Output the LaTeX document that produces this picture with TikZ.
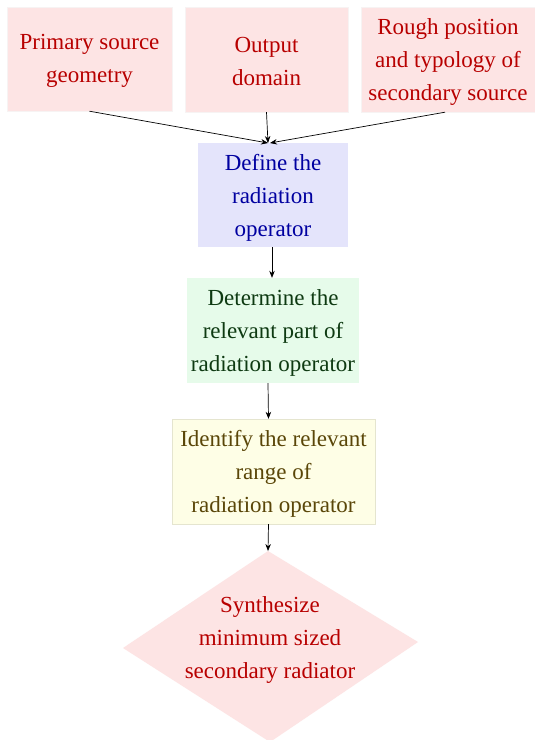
\documentclass[tikz,border=0pt]{standalone}
\usepackage{fontspec}
\setmainfont{Liberation Serif}
\usetikzlibrary{shapes.geometric,arrows.meta}
\definecolor{pinkfill}{HTML}{FDE4E4}
\definecolor{bluefill}{HTML}{E4E4FB}
\definecolor{greenfill}{HTML}{E6FBEA}
\definecolor{yellowfill}{HTML}{FEFEE6}
\definecolor{redtext}{HTML}{B80000}
\definecolor{bluetext}{HTML}{0000A0}
\definecolor{greentext}{HTML}{0E3A12}
\definecolor{yellowtext}{HTML}{5A4608}
\tikzset{
  box/.style={rectangle, inner sep=0pt, align=center,
    font=\fontsize{23}{33}\selectfont},
  pinkbox/.style={box, fill=pinkfill, draw=pinkfill!85!black!20},
  bluebox/.style={box, fill=bluefill},
  greenbox/.style={box, fill=greenfill},
  yellowbox/.style={box, fill=yellowfill, draw=yellowfill!90!black},
  arr/.style={-{Stealth[length=7pt,width=5.5pt]}, line width=0.7pt, black}
}
\begin{document}
\begin{tikzpicture}[x=1pt,y=-1pt]
\useasboundingbox (0,0) rectangle (535,740);
\fill[white] (0,0) rectangle (535,740);
\node[pinkbox, minimum width=165pt, minimum height=104pt] (b1) at (89.5,59) {};
\node[box, text=redtext] (t1) at (89.5,61) {Primary source\\geometry};
\node[pinkbox, minimum width=163pt, minimum height=105pt] (b2) at (266.5,59.5) {};
\node[box, text=redtext] (t2) at (266.5,61.5) {Output\\domain};
\node[pinkbox, minimum width=174pt, minimum height=105pt] (b3) at (448,59.5) {};
\node[box, text=redtext] (t3) at (448,61.5) {Rough position\\and typology of\\secondary source};
\node[bluebox, minimum width=150pt, minimum height=104pt] (b4) at (273,195) {};
\node[box, text=bluetext] (t4) at (273,198) {Define the\\radiation\\operator};
\node[greenbox, minimum width=172pt, minimum height=105pt] (b5) at (273,330.5) {};
\node[box, text=greentext] (t5) at (273,332.5) {Determine the\\relevant part of\\radiation operator};
\node[yellowbox, minimum width=203pt, minimum height=105pt] (b6) at (273.5,471.5) {};
\node[box, text=yellowtext] (t6) at (273.5,473.5) {Identify the relevant\\range of\\radiation operator};
\coordinate (dtop) at (268,551);
\coordinate (dleft) at (123,648);
\coordinate (dright) at (418,642);
\coordinate (dbot) at (270,742);
\fill[pinkfill] (dtop) -- (dright) -- (dbot) -- (dleft) -- cycle;
\node[box, text=redtext] (d) at (270,640) {Synthesize\\minimum sized\\secondary radiator};
\coordinate (m4) at (268,143);
\draw[arr] (b1.south) -- (m4);
\draw[arr] (b2.south) -- (m4);
\draw[arr] ([xshift=-3pt]b3.south) -- ([xshift=2pt]m4);
\draw[arr] ([xshift=-1pt]b4.south) -- ([xshift=-1pt]b5.north);
\draw[arr] ([xshift=-5pt]b5.south) -- ([xshift=-5pt]b6.north);
\draw[arr] ([xshift=-5pt]b6.south) -- (dtop);
\end{tikzpicture}
\end{document}
